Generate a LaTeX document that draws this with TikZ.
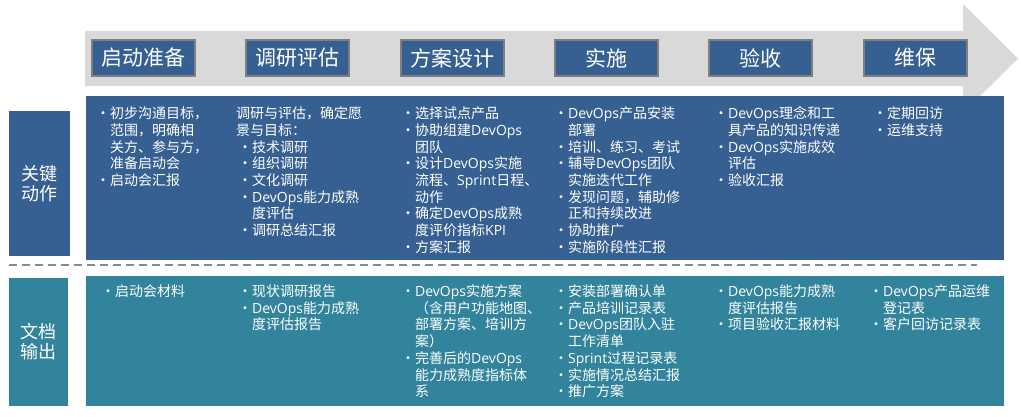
\documentclass[tikz,border=0pt]{standalone}
\usepackage{fontspec}
\setmainfont{Noto Sans CJK SC}
\newfontfamily\latf{Open Sans}
\definecolor{blueF}{HTML}{376092}
\definecolor{tealF}{HTML}{31849B}
\definecolor{arrowF}{HTML}{D9D9D9}
\definecolor{stageB}{HTML}{7F7F7F}
\definecolor{sepC}{HTML}{7F8C9A}
\newcommand{\bl}{\makebox[14pt][l]{•}}
\newcommand{\ct}{\hspace*{14pt}}
\newcommand{\fs}{\rule{0pt}{13pt}}
\newcommand{\DO}{{\latf DevOps}}
\tikzset{
  stagebox/.style={draw=stageB, line width=2pt, fill=blueF, text=white,
    minimum width=103pt, minimum height=36pt, inner sep=0pt,
    font=\fontsize{21}{24}\selectfont},
  labelbox/.style={fill=#1, text=white, inner sep=0pt, align=center,
    font=\fontsize{18}{20}\selectfont},
  panel/.style={fill=#1, inner sep=0pt, anchor=north west},
  coltext/.style={anchor=north west, inner sep=0pt, text=white, align=left,
    font=\fontsize{14}{16.7}\selectfont},
  sepline/.style={draw=sepC, line width=2.5pt, dash pattern=on 8pt off 5pt},
}
\begin{document}
\begin{tikzpicture}[x=1pt,y=-1pt]
\useasboundingbox (0,0) rectangle (1021,416);
% process arrow
\fill[arrowF] (85,31) -- (963,31) -- (963,4) -- (1018,58.5) -- (963,113) -- (963,86) -- (85,86) -- cycle;
% stage boxes
\node[stagebox] (s1) at (143.5,58) {启动准备};
\node[stagebox] (s2) at (297,58) {调研评估};
\node[stagebox] (s3) at (452,58) {方案设计};
\node[stagebox] (s4) at (606.5,58) {实施};
\node[stagebox] (s5) at (760.5,58) {验收};
\node[stagebox] (s6) at (915.5,58) {维保};
% panels
\node[panel=blueF, minimum width=918pt, minimum height=164pt] (act) at (86,96) {};
\node[panel=tealF, minimum width=918pt, minimum height=130pt] (doc) at (86,276) {};
\node[labelbox=blueF, minimum width=61pt, minimum height=145pt] (lab1) at (39.5,183.5) {关键\\动作};
\node[labelbox=tealF, minimum width=59pt, minimum height=128pt] (lab2) at (38.5,342) {文档\\输出};
% separator
\coordinate (sepA) at (9,265);
\coordinate (sepB) at (977,265);
\draw[sepline] (sepA) -- (sepB);
% key actions
\node[coltext] (a1) at (96,105.5) {\fs\bl 初步沟通目标，\\\ct 范围，明确相\\\ct 关方、参与方，\\\ct 准备启动会\\\bl 启动会汇报};
\node[coltext] (a2) at (236,105.5) {\fs 调研与评估，确定愿\\景与目标：\\\hspace*{2pt}\bl 技术调研\\\hspace*{2pt}\bl 组织调研\\\hspace*{2pt}\bl 文化调研\\\hspace*{2pt}\bl \DO 能力成熟\\\hspace*{2pt}\ct 度评估\\\hspace*{2pt}\bl 调研总结汇报};
\node[coltext] (a3) at (401,105.5) {\fs\bl 选择试点产品\\\bl 协助组建\DO\\\ct 团队\\\bl 设计\DO 实施\\\ct 流程、{\latf Sprint}日程、\\\ct 动作\\\bl 确定\DO 成熟\\\ct 度评价指标{\latf KPI}\\\bl 方案汇报};
\node[coltext] (a4) at (554,105.5) {\fs\bl \DO 产品安装\\\ct 部署\\\bl 培训、练习、考试\\\bl 辅导\DO 团队\\\ct 实施迭代工作\\\bl 发现问题，辅助修\\\ct 正和持续改进\\\bl 协助推广\\\bl 实施阶段性汇报};
\node[coltext] (a5) at (714,105.5) {\fs\bl \DO 理念和工\\\ct 具产品的知识传递\\\bl \DO 实施成效\\\ct 评估\\\bl 验收汇报};
\node[coltext] (a6) at (873,105.5) {\fs\bl 定期回访\\\bl 运维支持};
% documents
\node[coltext] (d1) at (101,283.3) {\fs\bl 启动会材料};
\node[coltext] (d2) at (238,283.3) {\fs\bl 现状调研报告\\\bl \DO 能力成熟\\\ct 度评估报告};
\node[coltext] (d3) at (401,283.3) {\fs\bl \DO 实施方案\\\ct （含用户功能地图、\\\ct 部署方案、培训方\\\ct 案）\\\bl 完善后的\DO\\\ct 能力成熟度指标体\\\ct 系};
\node[coltext] (d4) at (554,283.3) {\fs\bl 安装部署确认单\\\bl 产品培训记录表\\\bl \DO 团队入驻\\\ct 工作清单\\\bl {\latf Sprint}过程记录表\\\bl 实施情况总结汇报\\\bl 推广方案};
\node[coltext] (d5) at (714,283.3) {\fs\bl \DO 能力成熟\\\ct 度评估报告\\\bl 项目验收汇报材料};
\node[coltext] (d6) at (869,283.3) {\fs\bl \DO 产品运维\\\ct 登记表\\\bl 客户回访记录表};
\end{tikzpicture}
\end{document}
